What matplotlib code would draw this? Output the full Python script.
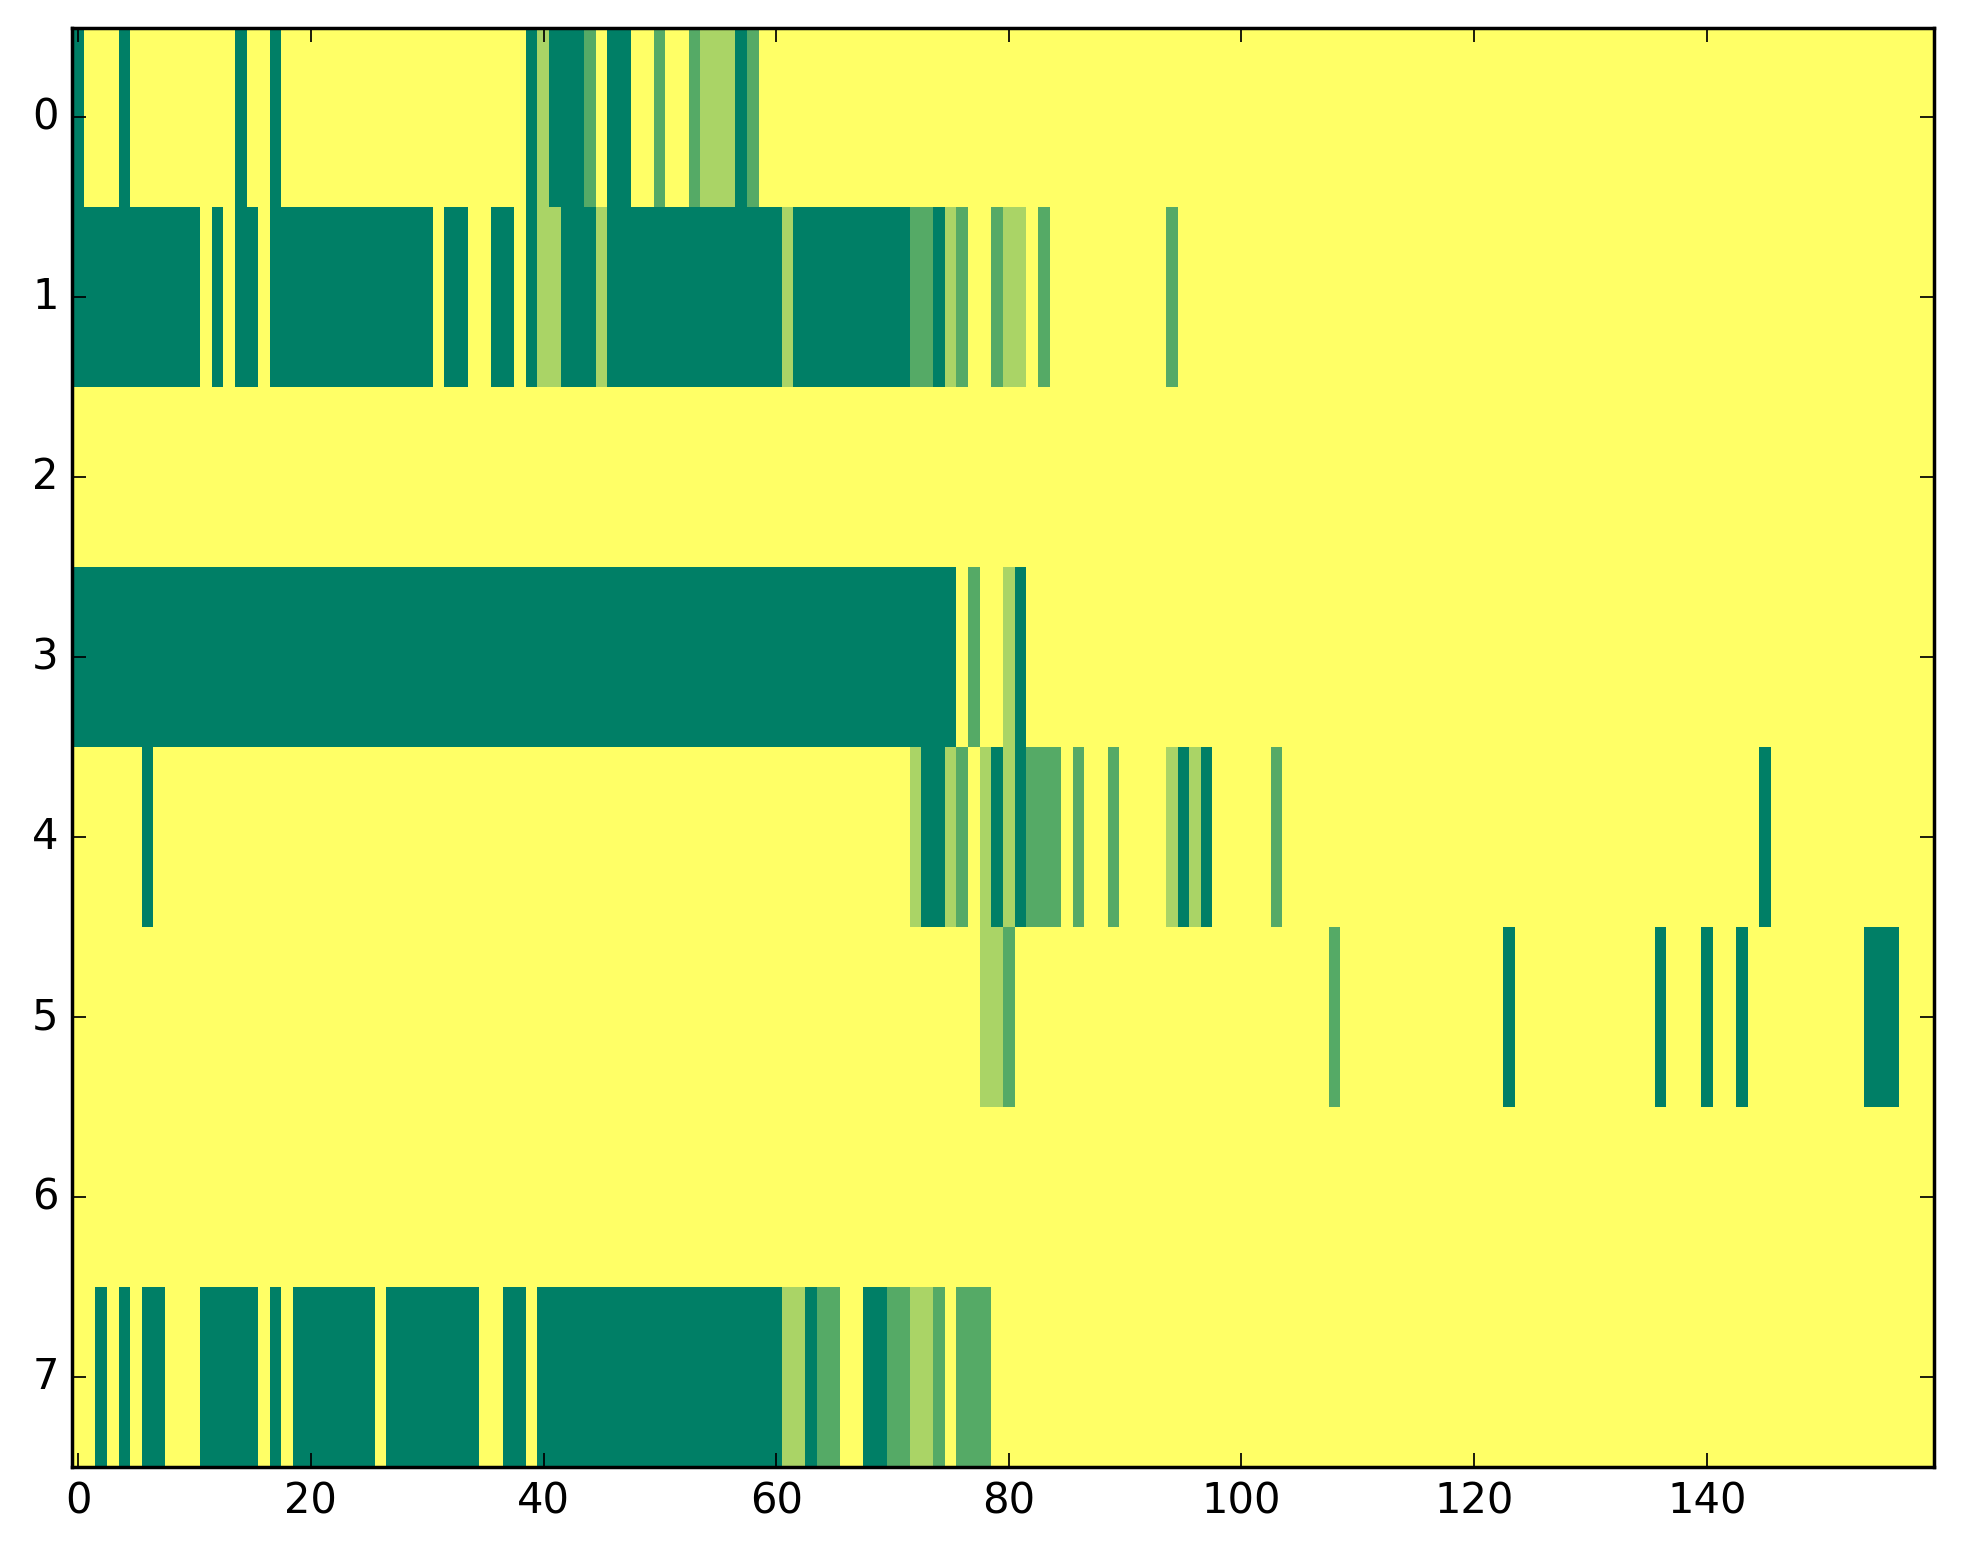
import numpy as np
import matplotlib
matplotlib.use("Agg")
import matplotlib.pyplot as plt

# Level per cell: 0 = yellow (background), 1 = light green, 2 = mid green, 3 = dark green
# Each row is given as run-length pairs (value, count) over 160 columns.
row0_runs = [(3,1),(0,3),(3,1),(0,9),(3,1),(0,2),(3,1),(0,21),(3,1),(1,1),(3,3),(2,1),
             (0,1),(3,2),(0,2),(2,1),(0,2),(2,1),(1,3),(3,1),(2,1),(0,101)]
row1_runs = [(3,11),(0,1),(3,1),(0,1),(3,2),(0,1),(3,14),(0,1),(3,2),(0,2),(3,2),(0,1),
             (3,1),(1,2),(3,3),(1,1),(3,15),(1,1),(3,10),(2,2),(3,1),(1,1),(2,1),(0,2),
             (2,1),(1,2),(0,1),(2,1),(0,10),(2,1),(0,65)]
row2_runs = [(0,160)]
row3_runs = [(3,76),(0,1),(2,1),(0,2),(1,1),(3,1),(0,78)]
row4_runs = [(0,6),(3,1),(0,65),(1,1),(3,2),(1,1),(2,1),(0,1),(1,1),(3,1),(1,1),(3,1),
             (2,3),(0,1),(2,1),(0,2),(2,1),(0,4),(1,1),(3,1),(1,1),(3,1),(0,5),(2,1),
             (0,41),(3,1),(0,14)]
row5_runs = [(0,78),(1,2),(2,1),(0,27),(2,1),(0,14),(3,1),(0,12),(3,1),(0,3),(3,1),(0,2),
             (3,1),(0,10),(3,3),(0,3)]
row6_runs = [(0,160)]
row7_runs = [(0,2),(3,1),(0,1),(3,1),(0,1),(3,2),(0,3),(3,5),(0,1),(3,1),(0,1),(3,7),
             (0,1),(3,8),(0,2),(3,2),(0,1),(3,21),(1,2),(3,1),(2,2),(0,2),(3,2),(2,2),
             (1,2),(2,1),(0,1),(2,3),(0,81)]

rows = [row0_runs, row1_runs, row2_runs, row3_runs,
        row4_runs, row5_runs, row6_runs, row7_runs]

x_ticks = [0, 20, 40, 60, 80, 100, 120, 140]
y_ticks = [0, 1, 2, 3, 4, 5, 6, 7]


def expand(runs):
    out = []
    for v, n in runs:
        out.extend([v] * n)
    return out


data = np.array([expand(r) for r in rows], dtype=float)

plt.style.use("classic")
plt.rcParams["font.family"] = ["DejaVu Sans"]

fig = plt.figure(figsize=(1963 / 250, 1564 / 250), dpi=250, facecolor="white")
ax = fig.add_axes([0.0369, 0.062, 0.985 - 0.0369, 0.9824 - 0.062])
ax.imshow(data, cmap="summer_r", vmin=0, vmax=3, aspect="auto",
          interpolation="nearest")
ax.set_xticks(x_ticks)
ax.set_yticks(y_ticks)
ax.set_xlim(-0.5, data.shape[1] - 0.5)
ax.set_ylim(data.shape[0] - 0.5, -0.5)
ax.tick_params(direction="in", top=True, right=True, labelsize=12)

fig.savefig("out.png", dpi=250, facecolor="white")
